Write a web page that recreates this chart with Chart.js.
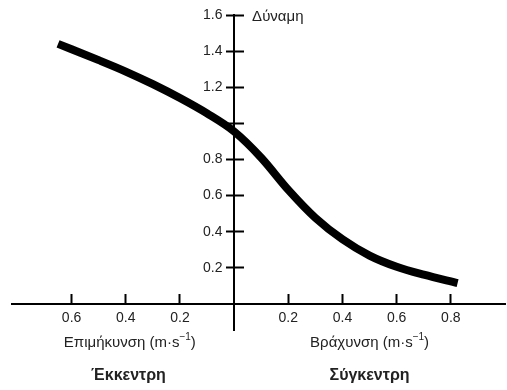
<!DOCTYPE html>
<html>
<head>
<meta charset="utf-8">
<script src="https://cdn.jsdelivr.net/npm/chart.js@4/dist/chart.umd.min.js"></script>
<style>
  body { margin: 0; background: #fff; }
  #wrap { width: 507px; height: 390px; }
</style>
</head>
<body>
<div id="wrap"><canvas id="forceChart"></canvas></div>
<script>
// Velocity (m/s): negative = lengthening (eccentric), positive = shortening
const velocity = [-0.65, -0.5, -0.4, -0.3, -0.2, -0.1, 0, 0.1, 0.2, 0.3, 0.4, 0.5, 0.6, 0.7, 0.825];
// Relative force
const force = [1.44, 1.35, 1.287, 1.217, 1.14, 1.055, 0.955, 0.81, 0.632, 0.477, 0.358, 0.268, 0.206, 0.162, 0.116];

// Tick values and labels
const xTickValues = [-0.6, -0.4, -0.2, 0.2, 0.4, 0.6, 0.8];
const yTickValues = [0.2, 0.4, 0.6, 0.8, 1.0, 1.2, 1.4, 1.6];
const yTickLabels = ["0.2", "0.4", "0.6", "0.8", "", "1.2", "1.4", "1.6"];

// Text
const yTitle = "Δύναμη";
const leftTitle = "Επιμήκυνση (m·s";
const rightTitle = "Βράχυνση (m·s";
const unitSup = "−1";
const leftGroup = "Έκκεντρη";
const rightGroup = "Σύγκεντρη";

const textFont = "'Liberation Sans', Arial, sans-serif";

// Draws the axis captions around the axes
const captionsPlugin = {
  id: "captions",
  afterDraw(chart) {
    const ctx = chart.ctx;
    const xs = chart.scales.x;
    const ys = chart.scales.y;
    const x0 = xs.getPixelForValue(0);
    const y0 = ys.getPixelForValue(0);

    ctx.save();
    ctx.fillStyle = "#222";
    ctx.textBaseline = "middle";

    // y axis title
    ctx.font = "15px " + textFont;
    ctx.textAlign = "left";
    ctx.fillText(yTitle, x0 + 18, ys.getPixelForValue(1.6) + 2);

    // x axis titles with superscript unit
    function unitText(text, cx, cy) {
      ctx.font = "15px " + textFont;
      const w1 = ctx.measureText(text).width;
      ctx.font = "10px " + textFont;
      const w2 = ctx.measureText(unitSup).width;
      ctx.font = "15px " + textFont;
      const w3 = ctx.measureText(")").width;
      let x = cx - (w1 + w2 + w3) / 2;
      ctx.textAlign = "left";
      ctx.fillText(text, x, cy);
      x += w1;
      ctx.font = "10px " + textFont;
      ctx.fillText(unitSup, x, cy - 6);
      x += w2;
      ctx.font = "15px " + textFont;
      ctx.fillText(")", x, cy);
    }
    unitText(leftTitle, xs.getPixelForValue(-0.385), y0 + 39);
    unitText(rightTitle, xs.getPixelForValue(0.5), y0 + 39);

    // group labels
    ctx.font = "bold 16px " + textFont;
    ctx.textAlign = "center";
    ctx.fillText(leftGroup, xs.getPixelForValue(-0.39), y0 + 72);
    ctx.fillText(rightGroup, xs.getPixelForValue(0.5), y0 + 72);
    ctx.restore();
  },
};

const tickFont = { family: textFont, size: 14 };

new Chart(document.getElementById("forceChart"), {
  type: "line",
  data: {
    labels: velocity,
    datasets: [
      {
        data: velocity.map((v, i) => ({ x: v, y: force[i] })),
        borderColor: "#000",
        borderWidth: 8,
        pointRadius: 0,
        cubicInterpolationMode: "monotone",
        fill: false,
      },
    ],
  },
  options: {
    responsive: true,
    maintainAspectRatio: false,
    animation: false,
    layout: { padding: { left: 12, right: 2, top: 15, bottom: 60 } },
    plugins: { legend: { display: false }, tooltip: { enabled: false } },
    scales: {
      x: {
        type: "linear",
        position: { y: 0 },
        min: -0.82,
        max: 1.0,
        afterBuildTicks: (scale) => {
          scale.ticks = xTickValues.map((v) => ({ value: v }));
        },
        grid: { drawOnChartArea: false, tickLength: -11, tickWidth: 2, tickColor: "#000" },
        border: { color: "#000", width: 2 },
        ticks: {
          padding: 17,
          color: "#222",
          font: tickFont,
          maxRotation: 0,
          callback: (v) => Math.abs(v).toFixed(1),
        },
      },
      y: {
        type: "linear",
        position: { x: 0 },
        min: -0.144,
        max: 1.6,
        afterBuildTicks: (scale) => {
          scale.ticks = yTickValues.map((v) => ({ value: v }));
        },
        grid: { drawOnChartArea: false, tickLength: 7, tickWidth: 2, tickColor: "#000" },
        border: { color: "#000", width: 2 },
        ticks: {
          color: "#222",
          font: tickFont,
          // labels sit at the axis line, so pad them with spaces
          callback: (v, i) => (yTickLabels[i] ? yTickLabels[i] + "   " : ""),
        },
      },
      // right half of the crossing y ticks
      y2: {
        type: "linear",
        position: { x: 0 },
        min: -0.144,
        max: 1.6,
        afterBuildTicks: (scale) => {
          scale.ticks = yTickValues.map((v) => ({ value: v }));
        },
        grid: { drawOnChartArea: false, tickLength: -10, tickWidth: 2, tickColor: "#000" },
        border: { display: false },
        ticks: { display: false },
      },
    },
  },
  plugins: [captionsPlugin],
});
</script>
</body>
</html>
